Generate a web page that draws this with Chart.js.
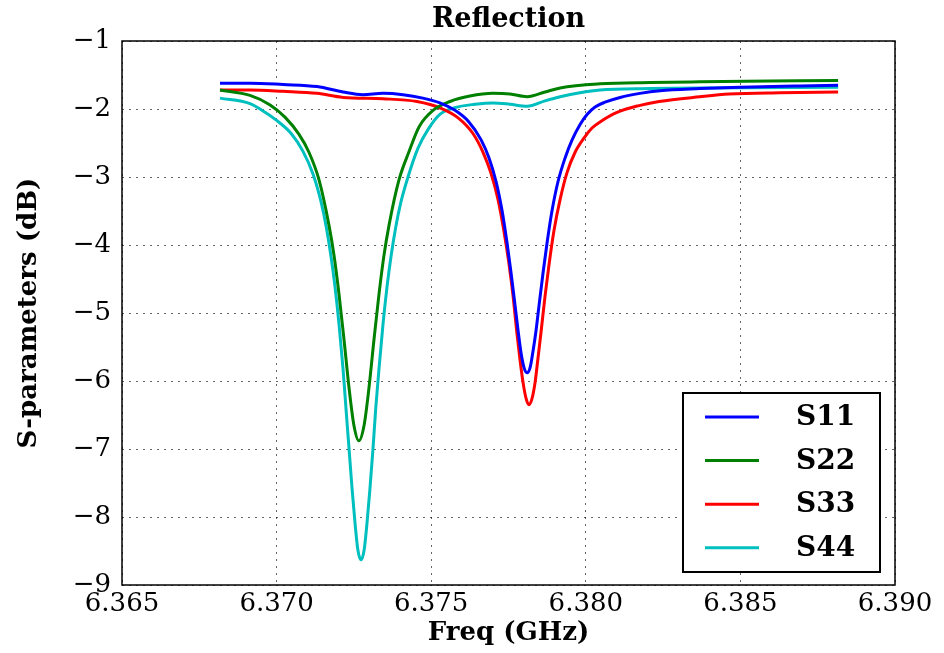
<!DOCTYPE html>
<html><head><meta charset="utf-8">
<script src="https://cdn.jsdelivr.net/npm/chart.js@4/dist/chart.umd.min.js"></script>
<style>html,body{margin:0;padding:0;background:#fff;}#wrap{width:944px;height:653px;}</style>
</head><body><div id="wrap"><canvas id="c" width="944" height="653"></canvas></div>
<script>
const xTicks = [6.365, 6.370, 6.375, 6.380, 6.385, 6.390];
const yTicks = [-1, -2, -3, -4, -5, -6, -7, -8, -9];
const seriesNames = ['S11', 'S22', 'S33', 'S44'];

const freqS11 = [6.36817, 6.36914, 6.37021, 6.37131, 6.37215, 6.37279, 6.37344, 6.37409, 6.37473, 6.37528,
                 6.37577, 6.37622, 6.37661, 6.37687, 6.37710, 6.37729, 6.37745, 6.37758, 6.37771, 6.37781,
                 6.37790, 6.37800, 6.37810, 6.37820, 6.37829, 6.37839, 6.37849, 6.37862, 6.37875, 6.37891,
                 6.37910, 6.37933, 6.37955, 6.37981, 6.38004, 6.38030, 6.38062, 6.38111, 6.38175, 6.38240,
                 6.38369, 6.38499, 6.38693, 6.38816];
const dbS11   = [-1.62, -1.62, -1.64, -1.67, -1.75, -1.79, -1.77, -1.79, -1.84, -1.91,
                 -2.02, -2.19, -2.45, -2.72, -3.07, -3.49, -3.96, -4.40, -4.88, -5.26,
                 -5.57, -5.80, -5.88, -5.80, -5.57, -5.26, -4.88, -4.40, -3.96, -3.49,
                 -3.07, -2.72, -2.46, -2.23, -2.08, -1.97, -1.90, -1.83, -1.77, -1.73,
                 -1.70, -1.68, -1.66, -1.65];

const freqS22 = [6.36817, 6.36914, 6.36979, 6.37027, 6.37072, 6.37105, 6.37137, 6.37169, 6.37186, 6.37202,
                 6.37218, 6.37234, 6.37250, 6.37266, 6.37283, 6.37299, 6.37315, 6.37331, 6.37347, 6.37364,
                 6.37396, 6.37428, 6.37461, 6.37509, 6.37561, 6.37625, 6.37700, 6.37755, 6.37810, 6.37868,
                 6.37917, 6.38046, 6.38208, 6.38369, 6.38596, 6.38816];
const dbS22   = [-1.72, -1.80, -1.94, -2.12, -2.37, -2.64, -3.04, -3.70, -4.16, -4.73,
                 -5.39, -6.09, -6.65, -6.88, -6.65, -6.09, -5.39, -4.73, -4.16, -3.70,
                 -3.04, -2.63, -2.26, -2.01, -1.89, -1.81, -1.77, -1.78, -1.82, -1.75,
                 -1.69, -1.63, -1.61, -1.60, -1.59, -1.58];

const freqS33 = [6.36817, 6.36914, 6.37021, 6.37131, 6.37215, 6.37344, 6.37454, 6.37532, 6.37587, 6.37635,
                 6.37668, 6.37693, 6.37716, 6.37735, 6.37752, 6.37765, 6.37777, 6.37787, 6.37797, 6.37807,
                 6.37816, 6.37826, 6.37836, 6.37845, 6.37855, 6.37868, 6.37881, 6.37897, 6.37917, 6.37939,
                 6.37965, 6.37997, 6.38020, 6.38046, 6.38101, 6.38172, 6.38237, 6.38369, 6.38463, 6.38628,
                 6.38816];
const dbS33   = [-1.72, -1.72, -1.74, -1.77, -1.83, -1.85, -1.89, -1.99, -2.13, -2.36,
                 -2.64, -2.94, -3.33, -3.79, -4.29, -4.76, -5.29, -5.68, -6.02, -6.26,
                 -6.35, -6.26, -6.02, -5.68, -5.29, -4.76, -4.29, -3.79, -3.33, -2.94,
                 -2.64, -2.41, -2.28, -2.19, -2.05, -1.95, -1.89, -1.82, -1.78, -1.76,
                 -1.75];

const freqS44 = [6.36817, 6.36914, 6.36950, 6.36998, 6.37047, 6.37085, 6.37118, 6.37144, 6.37160, 6.37176,
                 6.37189, 6.37202, 6.37215, 6.37224, 6.37234, 6.37244, 6.37254, 6.37263, 6.37273, 6.37283,
                 6.37292, 6.37302, 6.37312, 6.37321, 6.37331, 6.37344, 6.37357, 6.37370, 6.37386, 6.37402,
                 6.37425, 6.37457, 6.37490, 6.37528, 6.37577, 6.37642, 6.37700, 6.37755, 6.37810, 6.37868,
                 6.37917, 6.37981, 6.38046, 6.38208, 6.38369, 6.38816];
const dbS44   = [-1.84, -1.92, -2.01, -2.16, -2.36, -2.62, -2.96, -3.37, -3.72, -4.17,
                 -4.62, -5.17, -5.83, -6.38, -6.98, -7.58, -8.11, -8.49, -8.63, -8.49,
                 -8.11, -7.58, -6.98, -6.38, -5.83, -5.17, -4.62, -4.17, -3.72, -3.37,
                 -3.00, -2.58, -2.30, -2.08, -1.98, -1.93, -1.91, -1.93, -1.96, -1.88,
                 -1.82, -1.76, -1.72, -1.70, -1.69, -1.68];

const colors = ['#0000ff', '#008000', '#ff0000', '#00bfbf'];
const freqs = [freqS11, freqS22, freqS33, freqS44];
const dbs = [dbS11, dbS22, dbS33, dbS44];

const SERIF = "'DejaVu Serif', 'Liberation Serif', serif";

const frameAndLegend = {
  id: 'frameAndLegend',
  afterDraw(chart) {
    const ctx = chart.ctx;
    const a = chart.chartArea;
    ctx.save();
    ctx.strokeStyle = '#000';
    ctx.lineWidth = 1.5;
    ctx.strokeRect(a.left, a.top, a.right - a.left, a.bottom - a.top);
    const w = 197, h = 179;
    const lx = a.right - 15 - w, ly = a.bottom - 13 - h;
    ctx.fillStyle = '#fff';
    ctx.fillRect(lx, ly, w, h);
    ctx.lineWidth = 2;
    ctx.strokeRect(lx, ly, w, h);
    ctx.font = 'bold 28px ' + SERIF;
    ctx.textBaseline = 'middle';
    ctx.textAlign = 'left';
    chart.data.datasets.forEach((ds, i) => {
      const yy = ly + 24 + i * 43.6;
      ctx.strokeStyle = ds.borderColor;
      ctx.lineWidth = 3;
      ctx.beginPath();
      ctx.moveTo(lx + 22, yy);
      ctx.lineTo(lx + 76, yy);
      ctx.stroke();
      ctx.fillStyle = '#000';
      ctx.fillText(ds.label, lx + 113, yy + 1);
    });
    ctx.restore();
  }
};

new Chart(document.getElementById('c'), {
  type: 'line',
  data: {
    datasets: seriesNames.map((name, i) => ({
      label: name,
      data: freqs[i].map((f, k) => ({ x: f, y: dbs[i][k] })),
      borderColor: colors[i],
      backgroundColor: colors[i],
      borderWidth: 3,
      pointRadius: 0,
      fill: false,
      cubicInterpolationMode: 'monotone'
    }))
  },
  options: {
    responsive: false,
    animation: false,
    devicePixelRatio: 1,
    layout: { padding: { left: 10, right: 49, top: 0, bottom: 0 } },
    plugins: {
      legend: { display: false },
      tooltip: { enabled: false },
      title: {
        display: true,
        fullSize: false,
        text: 'Reflection',
        color: '#000',
        font: { family: SERIF, size: 27, weight: 'bold' },
        padding: { top: 4, bottom: 4.6 }
      }
    },
    scales: {
      x: {
        type: 'linear',
        min: 6.365,
        max: 6.390,
        afterBuildTicks: s => { s.ticks = xTicks.map(v => ({ value: v })); },
        afterFit: s => { s.height = 68; },
        ticks: {
          callback: v => Number(v).toFixed(3),
          font: { family: SERIF, size: 26 },
          color: '#000',
          padding: 4,
          maxRotation: 0,
          autoSkip: false
        },
        grid: { color: 'rgba(0,0,0,0.6)', lineWidth: 1, drawTicks: false },
        border: { display: false, dash: [2, 5] },
        title: {
          display: true,
          text: 'Freq (GHz)',
          color: '#000',
          font: { family: SERIF, size: 26, weight: 'bold' },
          padding: { top: 4, bottom: 4 }
        }
      },
      y: {
        min: -9,
        max: -1,
        afterBuildTicks: s => { s.ticks = yTicks.map(v => ({ value: v })); },
        afterFit: s => { s.width = 112; },
        ticks: {
          callback: v => (v < 0 ? '\u2212' : '') + Math.abs(v),
          font: { family: SERIF, size: 26 },
          color: '#000',
          padding: 11,
          autoSkip: false
        },
        grid: { color: 'rgba(0,0,0,0.6)', lineWidth: 1, drawTicks: false },
        border: { display: false, dash: [2, 5] },
        title: {
          display: true,
          text: 'S-parameters (dB)',
          color: '#000',
          font: { family: SERIF, size: 26, weight: 'bold' },
          padding: { top: 4, bottom: 4 }
        }
      }
    }
  },
  plugins: [frameAndLegend]
});
</script>
</body></html>
